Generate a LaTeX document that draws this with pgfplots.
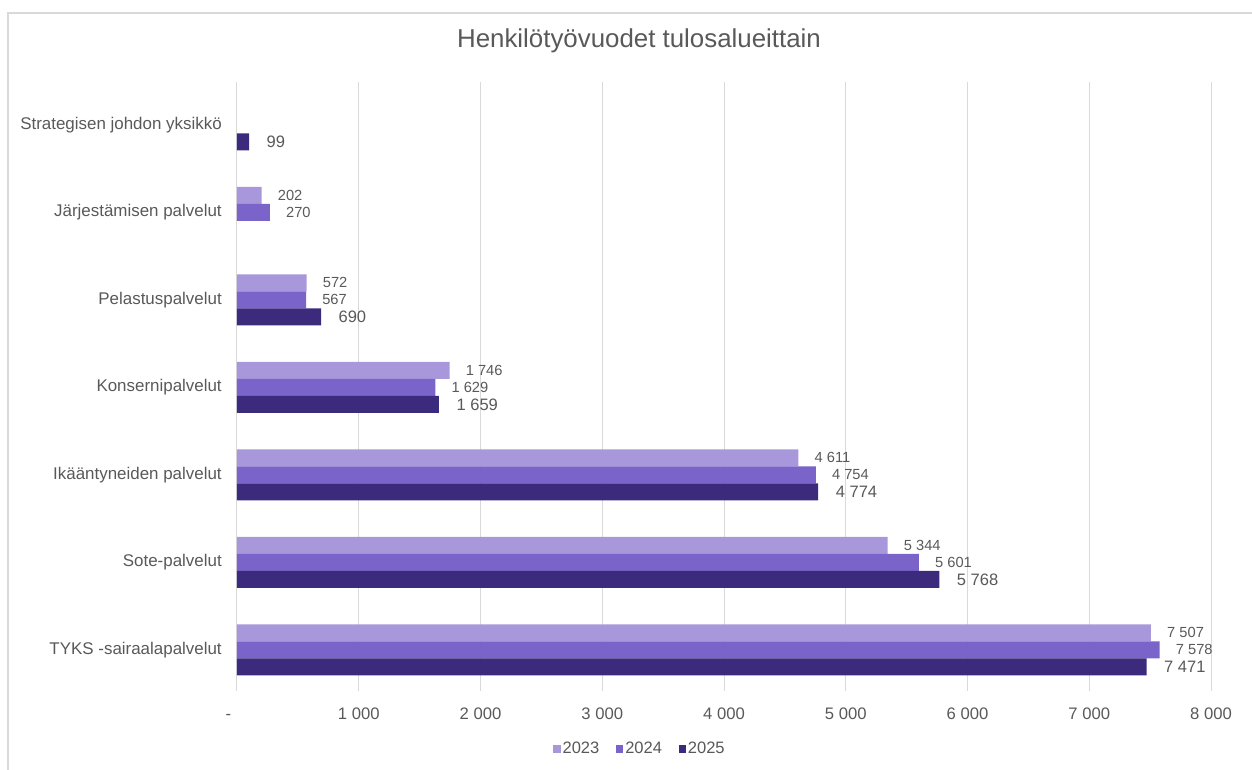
\documentclass[border=0pt]{standalone}
\usepackage{pgfplots}
\pgfplotsset{compat=1.18}
\usepackage{fontspec}
\setmainfont{Liberation Sans}
\definecolor{c23}{HTML}{A898DB}
\definecolor{c24}{HTML}{7B64C9}
\definecolor{c25}{HTML}{3C2A7C}
\definecolor{txt}{HTML}{595959}
\definecolor{grd}{HTML}{D9D9D9}
\begin{document}
\begin{tikzpicture}
\begin{axis}[
  name=ax, at={(0,0)}, anchor=south west,
  scale only axis, width=730.5pt, height=456.75pt,
  xbar, bar width=12.75pt,
  xmin=0, xmax=8000, ymin=-0.47, ymax=6.49,
  ytick={0,1,2,3,4,5,6},
  yticklabels={TYKS -sairaalapalvelut, Sote-palvelut, Ikääntyneiden palvelut, Konsernipalvelut, Pelastuspalvelut, Järjestämisen palvelut, Strategisen johdon yksikkö},
  xtick={0,1000,2000,3000,4000,5000,6000,7000,8000},
  xticklabels={{\makebox[17pt][l]{-}}, 1 000, 2 000, 3 000, 4 000, 5 000, 6 000, 7 000, 8 000},
  axis line style={draw=none},
  major tick length=0pt,
  xmajorgrids, grid style={grd, line width=0.75pt},
  xticklabel style={anchor=base, yshift=-21pt, font=\fontsize{12.5}{15}\selectfont, text=txt},
  yticklabel style={anchor=east, inner sep=0pt, xshift=-11.25pt, font=\fontsize{12.7}{15}\selectfont, text=txt},
  /pgf/number format/.cd, 1000 sep={\ }, assume math mode=true, /pgfplots/.cd,
  nodes near coords,
  legend style={at={(0.4138,-0.0952)}, anchor=center, draw=none, legend columns=3,
    font=\fontsize{12.4}{15}\selectfont, text=txt,
    /tikz/every even column/.append style={column sep=11pt},
    nodes={inner sep=1.5pt}},
  legend image code/.code={\fill[#1] (0pt,-2.7pt) rectangle (5.4pt,2.7pt);},
]
\addplot[fill=c23, draw=none, bar shift=12.75pt,
  nodes near coords style={anchor=west, inner sep=0pt, xshift=12pt, text=txt, font=\fontsize{11}{13}\selectfont}]
  coordinates {(7507,0) (5344,1) (4611,2) (1746,3) (572,4) (202,5)};
\addplot[fill=c24, draw=none, bar shift=0pt,
  nodes near coords style={anchor=west, inner sep=0pt, xshift=12pt, text=txt, font=\fontsize{11}{13}\selectfont}]
  coordinates {(7578,0) (5601,1) (4754,2) (1629,3) (567,4) (270,5)};
\addplot[fill=c25, draw=none, bar shift=-12.75pt,
  nodes near coords style={anchor=west, inner sep=0pt, xshift=13pt, text=txt, font=\fontsize{12.4}{15}\selectfont}]
  coordinates {(7471,0) (5768,1) (4774,2) (1659,3) (690,4) (99,6)};
\legend{2023,2024,2025}
\end{axis}
\pgfresetboundingbox
\begin{scope}[shift={(ax.south west)}, x=0.75pt, y=0.75pt]
\useasboundingbox (-237,-78) rectangle (1015,691);
\draw[grd, line width=1.5pt] (-229,-80) -- (-229,678) -- (1017,678);
\node[txt, font=\fontsize{19.4}{22}\selectfont, anchor=base, inner sep=0pt] at (402,643) {Henkilötyövuodet tulosalueittain};
\end{scope}
\end{tikzpicture}
\end{document}
